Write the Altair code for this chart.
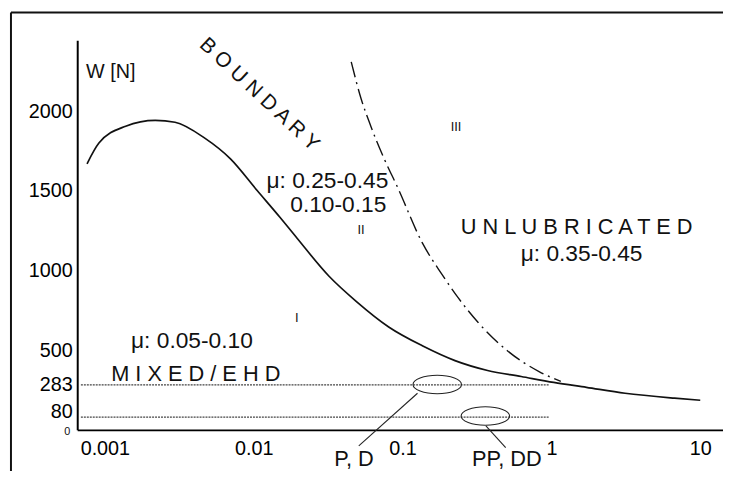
import altair as alt
import pandas as pd

# ---- data ----
# solid curve (boundary between regimes)
solid_x = [0.000759, 0.000912, 0.00138, 0.00218, 0.00296, 0.00469, 0.00698, 0.01055,
           0.0150, 0.0195, 0.0322, 0.0488, 0.0807, 0.1358, 0.2250, 0.3726, 0.6266,
           1.037, 1.718, 3.126, 6.72, 10.0]
solid_w = [1671, 1801, 1907, 1944, 1932, 1832, 1702, 1503, 1335, 1205, 963, 807,
           646, 528, 435, 373, 335, 298, 267, 230, 199, 186]

# dash-dot curve (boundary / unlubricated)
dash_x = [0.0452, 0.0526, 0.0612, 0.0748, 0.0927, 0.1358, 0.1845, 0.2355, 0.320, 0.506, 0.826, 1.157]
dash_w = [2311, 2081, 1907, 1708, 1522, 1174, 975, 832, 677, 497, 366, 304]

# dotted load levels
level_w = [283, 80]
level_x0 = [0.00069, 0.00069]
level_x1 = [0.962, 0.962]

# ellipses marking test conditions
ell_x = [0.171, 0.360]
ell_w = [285, 87]

# leader lines from ellipses to labels
lead_x0 = [0.126, 0.363]
lead_w0 = [230, 25]
lead_x1 = [0.0508, 0.493]
lead_w1 = [-100, -112]

# axis ticks
x_ticks = [0.001, 0.01, 0.1, 1, 10]
y_ticks = [80, 283, 500, 1000, 1500, 2000]

# annotations
big_text = ["μ: 0.25-0.45", "0.10-0.15", "μ: 0.35-0.45", "μ: 0.05-0.10"]
big_x = [0.03126, 0.0370, 1.595, 0.003845]
big_w = [1565, 1410, 1106, 559]

spaced_text = ["U N L U B R I C A T E D", "M I X E D / E H D"]
spaced_x = [1.477, 0.00408]
spaced_w = [1273, 348]

roman_text = ["I", "II", "III"]
roman_x = [0.01945, 0.0526, 0.2286]
roman_w = [702, 1255, 1901]

cond_text = ["P, D", "PP, DD"]
cond_x = [0.0472, 0.502]
cond_w = [-186, -186]

unit_text = ["W [N]"]
unit_x = [0.001096]
unit_w = [2248]

bound_text = ["B O U N D A R Y"]
bound_x = [0.01089]
bound_w = [2106]

origin_text = ["0"]
origin_w = [-12]

X_DOMAIN = [0.000652, 14.22]
Y_DOMAIN = [0, 2447]
FONT = "Liberation Sans"

xscale = alt.Scale(type="log", domain=X_DOMAIN, nice=False)
yscale = alt.Scale(domain=Y_DOMAIN, nice=False, zero=False)
xaxis = alt.Axis(values=x_ticks, format="~g", title="", grid=False, ticks=False,
                 domainColor="black", domainWidth=2, labelFontSize=20, labelFont=FONT,
                 labelColor="black", labelPadding=9, labelFlush=False)
yaxis = alt.Axis(values=y_ticks, format="d", title="", grid=False, ticks=False,
                 domainColor="black", domainWidth=2, labelFontSize=20, labelFont=FONT,
                 labelColor="black", labelPadding=5,
                 labelOffset={"condition": {"test": "datum.value == 80", "value": -6}, "value": 0})


def X(f):
    return alt.X(f, type="quantitative", scale=xscale, axis=xaxis)


def Y(f):
    return alt.Y(f, type="quantitative", scale=yscale, axis=yaxis)


solid_df = pd.DataFrame({"x": solid_x, "w": solid_w})
dash_df = pd.DataFrame({"x": dash_x, "w": dash_w})
level_df = pd.DataFrame({"x0": level_x0, "x1": level_x1, "w": level_w})
ell_df = pd.DataFrame({"x": ell_x, "w": ell_w})
lead_df = pd.DataFrame({"x0": lead_x0, "w0": lead_w0, "x1": lead_x1, "w1": lead_w1})


def tdf(t, x, w):
    return pd.DataFrame({"t": t, "x": x, "w": w})


solid = alt.Chart(solid_df).mark_line(color="#111", strokeWidth=1.7, interpolate="monotone").encode(
    x=X("x"), y=Y("w"))

dash = alt.Chart(dash_df).mark_line(color="#111", strokeWidth=1.4, interpolate="monotone",
                                    strokeDash=[16, 5, 2, 5]).encode(x=X("x"), y=Y("w"))

levels = alt.Chart(level_df).mark_rule(color="#444", strokeWidth=1.3, strokeDash=[2, 1]).encode(
    x=X("x0"), x2="x1", y=Y("w"))

ellipse_path = "M -1 0 A 1 0.38 0 1 0 1 0 A 1 0.38 0 1 0 -1 0"
ellipses = alt.Chart(ell_df).mark_point(shape=ellipse_path, size=2400, filled=False,
                                        color="#222", strokeWidth=1.1, opacity=1).encode(
    x=X("x"), y=Y("w"))

leaders = alt.Chart(lead_df).mark_rule(color="#222", strokeWidth=1.1).encode(
    x=X("x0"), x2="x1", y=Y("w0"), y2="w1")


def text_layer(df, size, **kw):
    return alt.Chart(df).mark_text(font=FONT, fontSize=size, color="#111",
                                   align="center", baseline="middle", **kw).encode(
        x=X("x"), y=Y("w"), text="t:N")


t_big = text_layer(tdf(big_text, big_x, big_w), 23)
t_spaced = text_layer(tdf(spaced_text, spaced_x, spaced_w), 22)
t_roman = text_layer(tdf(roman_text, roman_x, roman_w), 13)
t_cond = text_layer(tdf(cond_text, cond_x, cond_w), 22)
t_unit = text_layer(tdf(unit_text, unit_x, unit_w), 20)
t_bound = text_layer(tdf(bound_text, bound_x, bound_w), 21, angle=43)

origin = alt.Chart(pd.DataFrame({"t": origin_text, "w": origin_w})).mark_text(
    font=FONT, fontSize=11, color="#111", align="center", baseline="middle").encode(
    x=alt.value(-10), y=Y("w"), text="t:N")

one = pd.DataFrame({"a": [0]})
frame_top = alt.Chart(one).mark_rule(color="#111", strokeWidth=2).encode(
    x=alt.value(-67), x2=alt.value(660), y=alt.value(-28))
frame_left = alt.Chart(one).mark_rule(color="#111", strokeWidth=2).encode(
    x=alt.value(-67), y=alt.value(-28), y2=alt.value(440))

chart = alt.layer(
    levels, solid, dash, ellipses, leaders,
    t_big, t_spaced, t_roman, t_cond, t_unit, t_bound, origin,
    frame_top, frame_left,
).properties(
    width=653, height=394,
    autosize=alt.AutoSizeParams(type="none"),
    padding={"left": 70, "top": 30, "right": 0, "bottom": 39},
    background="white",
).configure_view(strokeWidth=0)

chart.save("out.html", embed_options={"renderer": "svg", "actions": False})
